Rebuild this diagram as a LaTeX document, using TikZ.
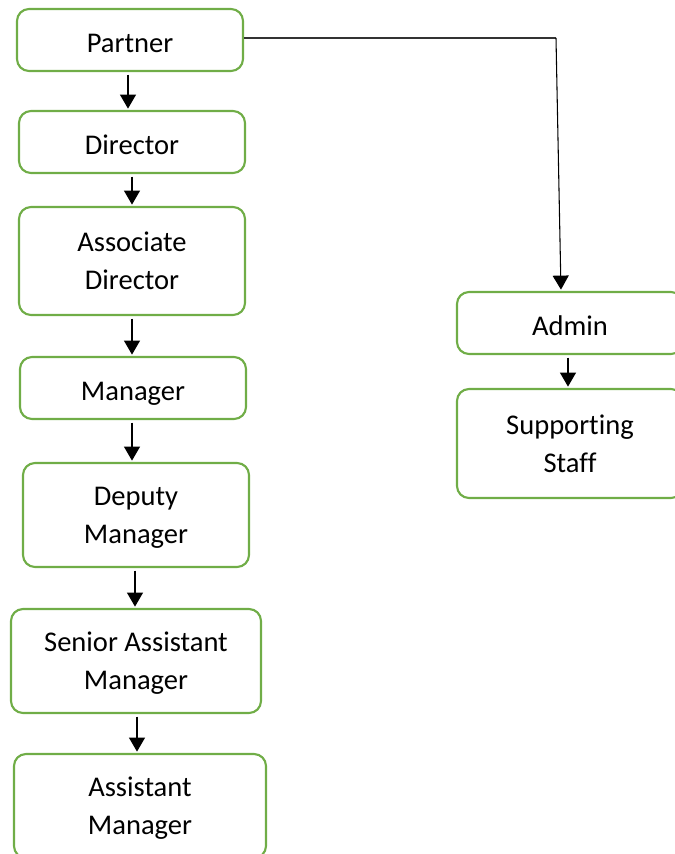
\documentclass[tikz,border=0pt]{standalone}
\usepackage{fontspec}
\setmainfont{Carlito}[Ligatures=NoCommon]
\usetikzlibrary{arrows.meta}
\definecolor{boxgreen}{RGB}{112,173,71}
\newcommand{\nodepthline}[1]{\raisebox{0pt}[\height][0pt]{#1}}
\begin{document}
\begin{tikzpicture}[x=0.75pt,y=-0.75pt,
  box/.style={draw=boxgreen, line width=1.6pt, rounded corners=9pt, align=center,
    inner sep=0pt, font=\fontsize{21.4pt}{28.5pt}\selectfont, text=black},
  single/.style={box, text height=22pt, text depth=4pt},
  arr/.style={draw=black, line width=0.8pt, shorten <=2pt, shorten >=1pt,
    -{Triangle[width=12pt,length=10.5pt]}},
  link/.style={draw=black!80, line width=0.8pt}]
\useasboundingbox (0,0) rectangle (675,854);
\node[single, minimum width={226*0.75pt}, minimum height={62*0.75pt}] (partner) at (130,40) {Partner};
\node[single, minimum width={226*0.75pt}, minimum height={62*0.75pt}] (director) at (132,142) {Director};
\node[box, minimum width={226*0.75pt}, minimum height={108*0.75pt}] (assoc) at (132,261) {Associate\\Director};
\node[single, minimum width={226*0.75pt}, minimum height={62*0.75pt}] (manager) at (133,388) {Manager};
\node[box, minimum width={226*0.75pt}, minimum height={104*0.75pt}] (deputy) at (136,515) {Deputy\\\nodepthline{Manager}};
\node[box, minimum width={250*0.75pt}, minimum height={104*0.75pt}] (senior) at (136,661) {Senior Assistant\\\nodepthline{Manager}};
\node[box, minimum width={252*0.75pt}, minimum height={104*0.75pt}] (assistant) at (140,806) {Assistant\\\nodepthline{Manager}};
\node[single, minimum width={226*0.75pt}, minimum height={62*0.75pt}] (admin) at (570,323) {Admin};
\node[box, minimum width={226*0.75pt}, minimum height={109*0.75pt}] (support) at (570,443.5) {Supporting\\Staff};
\draw[arr] ([xshift=-2*0.75pt]partner.south) -- ([xshift=-2*0.75pt]partner.south |- director.north);
\draw[arr] (director.south) -- (director.south |- assoc.north);
\draw[arr] (assoc.south) -- (assoc.south |- manager.north);
\draw[arr] ([xshift=-1*0.75pt]manager.south) -- ([xshift=-1*0.75pt]manager.south |- deputy.north);
\draw[arr] ([xshift=-1*0.75pt]deputy.south) -- ([xshift=-1*0.75pt]deputy.south |- senior.north);
\draw[arr] ([xshift=1*0.75pt]senior.south) -- ([xshift=1*0.75pt]senior.south |- assistant.north);
\draw[arr] ([xshift=-2*0.75pt]admin.south) -- ([xshift=-2*0.75pt]admin.south |- support.north);
\coordinate (bend) at (556,38);
\draw[link] ([yshift=2*0.75pt]partner.east) -- (bend);
\draw[arr, shorten <=0pt] (bend) -- ([xshift=-9*0.75pt]admin.north);
\end{tikzpicture}
\end{document}
